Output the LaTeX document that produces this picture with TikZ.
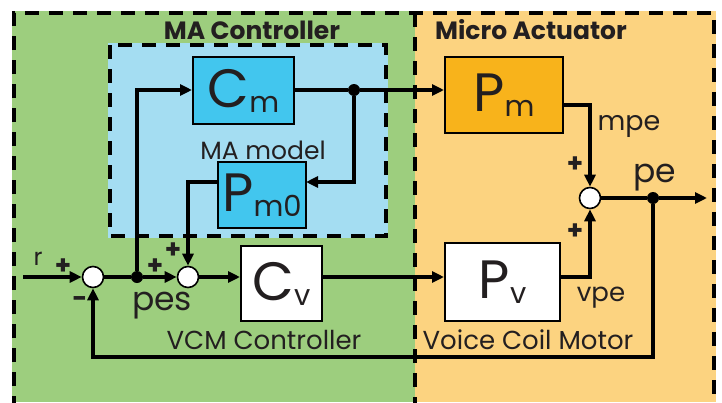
\documentclass[tikz,border=0pt]{standalone}
\usepackage{fontspec}
\setmainfont{Poppins}
\usepackage{xcolor}
\definecolor{vcmgreen}{RGB}{157,206,126}
\definecolor{maorange}{RGB}{252,211,128}
\definecolor{malight}{RGB}{164,221,242}
\definecolor{macyan}{RGB}{66,198,238}
\definecolor{pmorange}{RGB}{248,179,27}
\definecolor{inkgray}{RGB}{35,31,32}
\usepackage{tikz}
\usetikzlibrary{arrows.meta, positioning, calc}
\newcommand{\blk}[2]{{\fontsize{54}{54}\selectfont #1}\raisebox{-5pt}{\fontsize{29}{29}\selectfont #2}}

\begin{document}
\begin{tikzpicture}[x=1pt, y=-1pt,
        plantbox/.style={rectangle, draw=black, line width=2pt, inner sep=0pt, text=inkgray},
        sumnode/.style={circle, draw=black, fill=white, line width=1.6pt, minimum size=21pt, inner sep=0pt},
        dotnode/.style={circle, fill=black, minimum size=12pt, inner sep=0pt},
        line/.style={draw=black, line width=3.3pt, -{Triangle[length=12pt,width=11pt]}},
        wire/.style={draw=black, line width=3.3pt},
        region/.style={draw=black, line width=4pt, dash pattern=on 14pt off 10pt},
        lbl/.style={text=inkgray, inner sep=0pt, font=\fontsize{26}{26}\selectfont},
        sign/.style={text=inkgray, inner sep=0pt, font=\fontsize{26}{26}\selectfont\bfseries},
        title/.style={text=inkgray, inner sep=0pt, font=\fontsize{25}{25}\selectfont\bfseries}]
        \useasboundingbox (0,0) rectangle (722,402);

        % Fondos
        \fill[vcmgreen] (12,11) rectangle (415,402);
        \fill[maorange] (415,11) rectangle (716,402);
        \fill[malight] (108,43) rectangle (388,238);
        \draw[region] (14,410) -- (14,13) -- (714,13) -- (714,410);
        \draw[region] (415,13) -- (415,410);
        \draw[region] (110,45) rectangle (386,236);

        % Bloques
        \node [plantbox, fill=macyan, minimum width=101pt, minimum height=67pt] (cm) at (243.5,90.5) {\blk{C}{m}};
        \node [plantbox, fill=macyan, minimum width=88pt, minimum height=66pt] (pm0) at (262,195) {\blk{P}{m0}};
        \node [plantbox, fill=pmorange, minimum width=118pt, minimum height=76pt] (pm) at (504,95) {\blk{P}{m}};
        \node [plantbox, fill=white, minimum width=81pt, minimum height=75pt] (cv) at (281.5,283.5) {\blk{C}{v}};
        \node [plantbox, fill=white, minimum width=115pt, minimum height=78pt] (pv) at (502.5,282) {\blk{P}{v}};

        % Sumadores y derivaciones
        \node [sumnode] (s1) at (93,277) {};
        \node [sumnode] (s2) at (188,277) {};
        \node [sumnode] (s3) at (590,198) {};
        \node [dotnode] (pesdot) at (137,277) {};
        \node [dotnode] (branch) at (354,90) {};
        \node [dotnode] (pedot) at (653,198) {};
        \coordinate (in) at (23,277);
        \coordinate (out) at (707,198);
        \coordinate (pm0r) at (306,182);
        \coordinate (pm0l) at (218,182);
        \coordinate (pmo) at (563,105);
        \coordinate (fb) at (93,357);

        % Textos
        \node [title] (tma) at (252,30) {MA Controller};
        \node [title] (tmicro) at (531,30) {Micro Actuator};
        \node [lbl, font=\fontsize{25}{25}\selectfont] (tmodel) at (263,150) {MA model};
        \node [lbl] (tvcm) at (264,340) {VCM Controller};
        \node [lbl] (tvoice) at (528,340) {Voice Coil Motor};
        \node [lbl, font=\fontsize{24}{24}\selectfont] (tr) at (38,259) {r};
        \node [sign] at (63,267) {+};
        \node [sign] at (80,302) {-};
        \node [sign] at (155,267) {+};
        \node [sign] at (173,251) {+};
        \node [lbl, font=\fontsize{33}{33}\selectfont] (tpes) at (162,306) {pes};
        \node [lbl, font=\fontsize{27}{27}\selectfont] (tmpe) at (629,126) {mpe};
        \node [lbl, font=\fontsize{33}{33}\selectfont] (tpe) at (655,178) {pe};
        \node [lbl, font=\fontsize{26}{26}\selectfont] (tvpe) at (601,298) {vpe};
        \node [sign] at (575,165) {+};
        \node [sign] at (575,232) {+};

        % Conexiones
        \path [line] (in) -- (s1);
        \path [wire] (s1) -- (pesdot);
        \path [line] (pesdot) -- (s2);
        \path [line] (s2) -- (cv.west |- s2);
        \path [line] (cv.east |- s2) -- (pv.west |- s2);
        \path [line] (pesdot) |- (cm.west |- branch);
        \path [wire] (cm.east |- branch) -- (branch);
        \path [line] (branch) -- (pm.west |- branch);
        \path [line] (branch) |- (pm0r);
        \path [line] (pm0l) -| (s2);
        \path [line] (pmo) -| (s3);
        \path [line] (pv.east |- s2) -| (s3);
        \path [wire] (s3) -- (pedot);
        \path [line] (pedot) -- (out);
        \path [line] (pedot) |- (fb) -- (s1);
    \end{tikzpicture}
\end{document}
